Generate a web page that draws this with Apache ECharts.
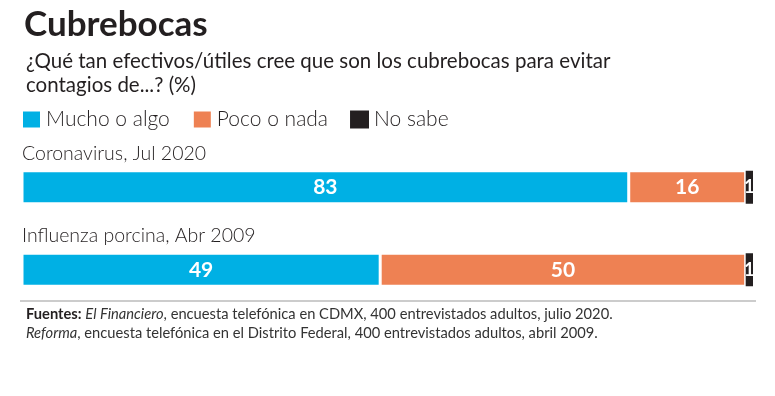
<!DOCTYPE html>
<html>
<head>
<meta charset="utf-8">
<script src="https://cdn.jsdelivr.net/npm/echarts@6/dist/echarts.min.js"></script>
<style>
  html, body { margin: 0; padding: 0; background: #fff; }
  #chart { width: 775px; height: 396px; }
</style>
</head>
<body>
<div id="chart"></div>
<script>
// datos
const categories = ['Coronavirus, Jul 2020', 'Influenza porcina, Abr 2009']
const muchoAlgo = [83, 49]
const pocoNada = [16, 50]
const noSabe = [1, 1]

const FONT = 'Lato'
const chart = echarts.init(document.getElementById('chart'))

function barSeries(name, data, color, size, border) {
  return {
    name: name,
    type: 'bar',
    stack: 'total',
    barWidth: 33,
    data: data,
    itemStyle: { color: color, borderColor: '#fff', borderWidth: border },
    label: {
      show: true,
      position: 'inside',
      color: '#fff',
      fontFamily: FONT,
      fontWeight: 'bold',
      fontSize: size
    }
  }
}

chart.setOption({
  animation: false,
  title: [{
    text: 'Cubrebocas',
    left: 19,
    top: 2,
    textStyle: { fontFamily: FONT, fontWeight: 'bold', fontSize: 35, color: '#231f20' }
  }, {
    text: '¿Qué tan efectivos/útiles cree que son los cubrebocas para evitar\ncontagios de...? (%)',
    left: 21,
    top: 44,
    textStyle: { fontFamily: FONT, fontWeight: 'normal', fontSize: 20.5, lineHeight: 24, color: '#231f20' }
  }, {
    text: '{b|Fuentes:} {i|El Financiero}, encuesta telefónica en CDMX, 400 entrevistados adultos, julio 2020.\n{i|Reforma}, encuesta telefónica en el Distrito Federal, 400 entrevistados adultos, abril 2009.',
    left: 21,
    top: 300,
    textStyle: {
      fontFamily: FONT, fontSize: 14.7, fontWeight: 'normal', lineHeight: 19, color: '#333',
      rich: {
        b: { fontFamily: FONT, fontSize: 14.7, fontWeight: 'bold', color: '#231f20', lineHeight: 19 },
        i: { fontFamily: FONT, fontSize: 14.7, fontWeight: 'normal', fontStyle: 'italic', color: '#333', lineHeight: 19 }
      }
    }
  }],
  legend: {
    left: 21,
    top: 109,
    padding: 0,
    icon: 'rect',
    itemWidth: 19,
    itemHeight: 18,
    itemGap: 22,
    textStyle: { fontFamily: FONT, fontWeight: 300, fontSize: 21, color: '#231f20' },
    data: ['Mucho o algo', 'Poco o nada', 'No sabe']
  },
  graphic: [{
    type: 'line',
    shape: { x1: 20, y1: 301, x2: 756, y2: 301 },
    style: { stroke: '#999', lineWidth: 1 }
  }],
  grid: { left: 22, right: 22, top: 146, bottom: 85 },
  xAxis: { type: 'value', min: 0, max: 100, show: false },
  yAxis: {
    type: 'category',
    inverse: true,
    data: categories,
    axisLine: { show: false },
    axisTick: { show: false },
    axisLabel: {
      inside: true,
      margin: 0,
      align: 'left',
      verticalAlign: 'bottom',
      padding: [0, 0, 24, 0],
      fontFamily: FONT,
      fontWeight: 300,
      fontSize: 19.5,
      color: '#231f20'
    }
  },
  series: [
    barSeries('Mucho o algo', muchoAlgo, '#00b0e4', 21, 1.5),
    barSeries('Poco o nada', pocoNada, '#ee8153', 21, 1.5),
    barSeries('No sabe', noSabe, '#231f20', 18, 0)
  ]
})
</script>
</body>
</html>
